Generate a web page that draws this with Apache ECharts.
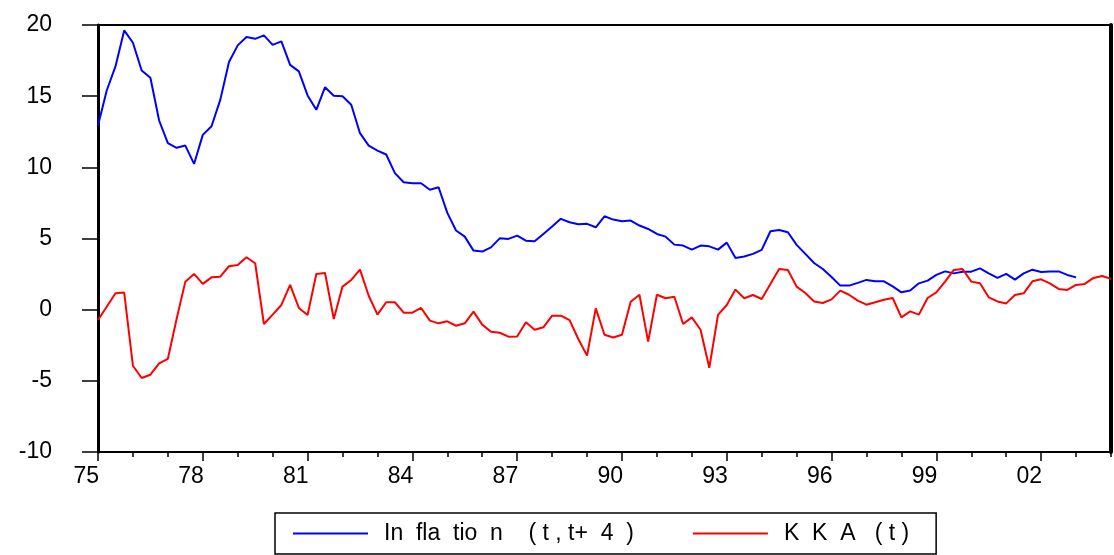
<!DOCTYPE html>
<html>
<head>
<meta charset="utf-8">
<script src="https://cdn.jsdelivr.net/npm/echarts@6/dist/echarts.min.js"></script>
<style>
html,body{margin:0;padding:0;background:#fff;}
#chart{width:1114px;height:555px;}
</style>
</head>
<body>
<div id="chart"></div>
<script>
// Quarterly observations 1975Q1 .. 2004Q1
const startYear = 1975;
const nObs = 117;
const quarters = [];
for (let i = 0; i < nObs; i++) {
  quarters.push((startYear + Math.floor(i / 4)) + 'Q' + (i % 4 + 1));
}
const xTickLabels = ['75','78','81','84','87','90','93','96','99','02'];
const yTickLabels = ['-10','-5','0','5','10','15','20'];

const seriesNames = ['In  fla  tio  n    ( t , t+  4  )', 'K  K  A   ( t )'];

const inflation = [
  12.94,15.4,17.09,19.62,18.75,16.8,16.29,13.29,11.7,11.37,11.53,10.24,
  12.28,12.89,14.74,17.4,18.57,19.15,19.03,19.27,18.6,18.85,17.2,16.74,
  15.05,14.04,15.63,15.03,15.0,14.4,12.4,11.53,11.18,10.9,9.59,8.95,
  8.88,8.88,8.42,8.6,6.8,5.56,5.13,4.15,4.08,4.38,5.01,4.97,
  5.2,4.85,4.8,5.32,5.84,6.38,6.14,6.0,6.03,5.79,6.56,6.33,
  6.21,6.26,5.91,5.67,5.32,5.13,4.57,4.5,4.22,4.5,4.45,4.22,
  4.71,3.63,3.73,3.92,4.2,5.51,5.6,5.44,4.55,3.92,3.28,2.86,
  2.3,1.69,1.69,1.88,2.09,1.99,1.99,1.64,1.22,1.34,1.85,2.04,
  2.44,2.69,2.55,2.67,2.67,2.9,2.55,2.23,2.51,2.11,2.55,2.81,
  2.65,2.69,2.69,2.44,2.27,null,null,null,null
];

const kka = [
  -0.73,0.2,1.15,1.2,-3.94,-4.8,-4.57,-3.77,-3.45,-0.66,1.97,2.51,
  1.81,2.27,2.32,3.05,3.14,3.68,3.26,-1.01,-0.35,0.33,1.74,0.12,
  -0.37,2.51,2.58,-0.66,1.62,2.09,2.81,0.98,-0.35,0.52,0.52,-0.21,
  -0.21,0.12,-0.77,-0.96,-0.82,-1.13,-0.96,-0.14,-1.05,-1.55,-1.62,-1.9,
  -1.88,-0.89,-1.41,-1.24,-0.42,-0.42,-0.73,-2.06,-3.23,0.09,-1.76,-1.95,
  -1.76,0.56,1.05,-2.25,1.05,0.8,0.91,-1.01,-0.54,-1.41,-4.08,-0.37,
  0.33,1.41,0.8,1.03,0.75,1.81,2.86,2.79,1.62,1.17,0.58,0.47,
  0.72,1.34,1.05,0.63,0.35,0.52,0.7,0.82,-0.54,-0.12,-0.35,0.82,
  1.22,1.97,2.79,2.86,1.97,1.85,0.87,0.58,0.44,1.03,1.15,1.99,
  2.13,1.85,1.46,1.39,1.74,1.81,2.23,2.37,2.16
];

const chart = echarts.init(document.getElementById('chart'));
const font = '"Liberation Sans", Arial, sans-serif';

chart.setOption({
  animation: false,
  backgroundColor: '#fff',
  grid: {
    left: 98, top: 25, right: 3, bottom: 103,
    show: true, borderColor: '#000', borderWidth: 2, backgroundColor: 'transparent'
  },
  legend: {
    left: 275, top: 513,
    orient: 'horizontal',
    padding: [9, 27, 9, 18],
    itemWidth: 75, itemHeight: 14, itemGap: 59,
    borderColor: '#000', borderWidth: 1.5,
    icon: 'path://M0,6 L75,6 L75,8 L0,8 Z',
    textStyle: { fontFamily: font, fontSize: 23, color: '#000', padding: [0, 0, 0, 11] },
    data: seriesNames
  },
  xAxis: [
    {
      type: 'category', data: quarters, boundaryGap: false, position: 'bottom',
      axisLine: { show: true, onZero: false, lineStyle: { color: '#000', width: 2 } },
      axisTick: { show: true, length: 5, lineStyle: { color: '#000', width: 1.5 },
        interval: function (idx) { return idx % 4 === 0; } },
      axisLabel: { show: false },
      splitLine: { show: false }
    },
    {
      type: 'category', data: quarters, boundaryGap: false, position: 'bottom',
      axisLine: { show: false, onZero: false },
      axisTick: { show: true, length: 9, lineStyle: { color: '#000', width: 1.5 },
        interval: function (idx) { return idx % 12 === 0; } },
      axisLabel: {
        show: true, interval: function (idx) { return idx % 12 === 0; },
        formatter: function (v, idx) { return xTickLabels[Math.round(idx / 12)]; },
        fontFamily: font, fontSize: 23, color: '#000', margin: 13, align: 'right',
        padding: [0, -1, 0, 0]
      },
      splitLine: { show: false }
    }
  ],
  yAxis: [
    {
      type: 'value', min: -10, max: 20, interval: 5, position: 'left',
      axisLine: { show: true, onZero: false, lineStyle: { color: '#000', width: 3 } },
      axisTick: { show: true, length: 16, lineStyle: { color: '#000', width: 1.5 } },
      axisLabel: {
        fontFamily: font, fontSize: 23, color: '#000', margin: 46,
        formatter: function (v) { return yTickLabels[Math.round((v + 10) / 5)]; }
      },
      splitLine: { show: false }
    },
    {
      type: 'value', min: -10, max: 20, interval: 5, position: 'right',
      axisLine: { show: true, onZero: false, lineStyle: { color: '#000', width: 4 } },
      axisTick: { show: false }, axisLabel: { show: false }, splitLine: { show: false }
    }
  ],
  series: [
    {
      name: seriesNames[0], type: 'line', data: inflation, xAxisIndex: 0, yAxisIndex: 0,
      showSymbol: false, connectNulls: false,
      lineStyle: { color: '#0000FF', width: 2 }, itemStyle: { color: '#0000FF' }
    },
    {
      name: seriesNames[1], type: 'line', data: kka, xAxisIndex: 0, yAxisIndex: 0,
      showSymbol: false,
      lineStyle: { color: '#FF0000', width: 2 }, itemStyle: { color: '#FF0000' }
    }
  ]
});
</script>
</body>
</html>
